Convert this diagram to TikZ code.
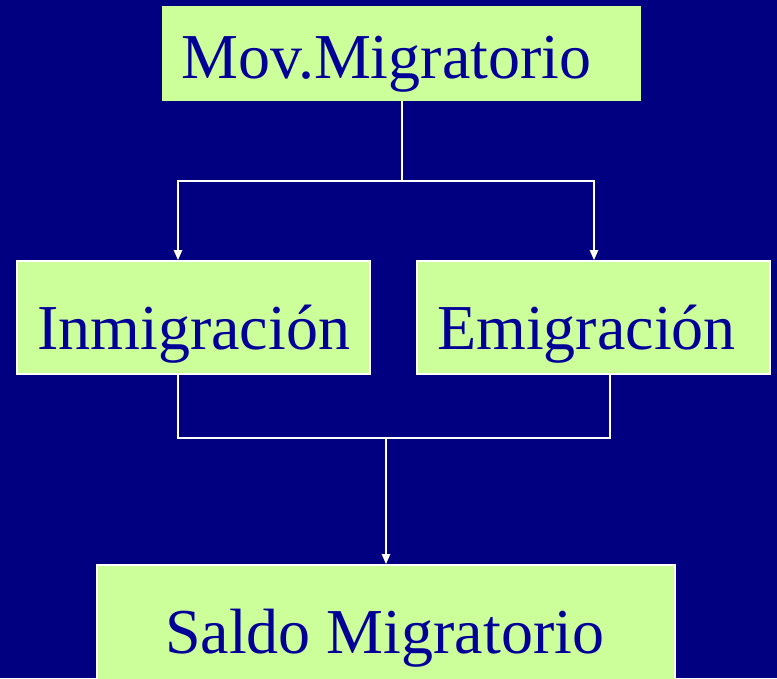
\documentclass[tikz,border=0pt]{standalone}
\usepackage{fontspec}
\setmainfont{Liberation Serif}
\usetikzlibrary{arrows.meta}
\definecolor{navybg}{RGB}{0,0,128}
\definecolor{boxgreen}{RGB}{204,255,153}
\definecolor{txtblue}{RGB}{0,0,153}
\begin{document}
\begin{tikzpicture}[x=1pt,y=-1pt,
  box/.style={rectangle, fill=boxgreen, inner sep=0pt},
  wbox/.style={box, draw=white, line width=1.6pt},
  lbl/.style={anchor=base west, inner sep=0pt, text=txtblue, font=\fontsize{64}{70}\selectfont},
  conn/.style={draw=white, line width=2pt},
  arr/.style={conn, -{Triangle[width=8pt,length=10pt]}, white}]
\fill[navybg] (0,0) rectangle (777,678);
\useasboundingbox (0,0) rectangle (777,678);
% boxes
\node[box, minimum width=479pt, minimum height=95pt] (mov) at (401.5,53.5) {};
\node[wbox, minimum width=353pt, minimum height=113pt] (inm) at (193.5,317.5) {};
\node[wbox, minimum width=353pt, minimum height=113pt] (emi) at (593.5,317.5) {};
\node[wbox, minimum width=578pt, minimum height=120pt] (sal) at (386,625) {};
% labels
\node[lbl] (tmov) at (181,78) {Mov.Migratorio};
\node[lbl] (tinm) at (37,349) {Inmigración};
\node[lbl] (temi) at (437,349) {Emigración};
\node[lbl] (tsal) at (165,653) {Saldo Migratorio};
% connector coordinates
\coordinate (j1) at (402,181);
\coordinate (a1) at (178,181);
\coordinate (a2) at (594,181);
\coordinate (b1) at (178,437.5);
\coordinate (b2) at (610,437.5);
\coordinate (j2) at (386,437.5);
% top connectors
\draw[conn] (mov.south -| j1) -- (j1);
\draw[arr] (j1) -- (a1) -- (a1 |- inm.north);
\draw[arr] (j1) -- (a2) -- (a2 |- emi.north);
% bottom connectors
\draw[conn] (b1 |- inm.south) -- (b1) -- (b2) -- (b2 |- emi.south);
\draw[arr] (j2) -- (j2 |- sal.north);
\end{tikzpicture}
\end{document}
